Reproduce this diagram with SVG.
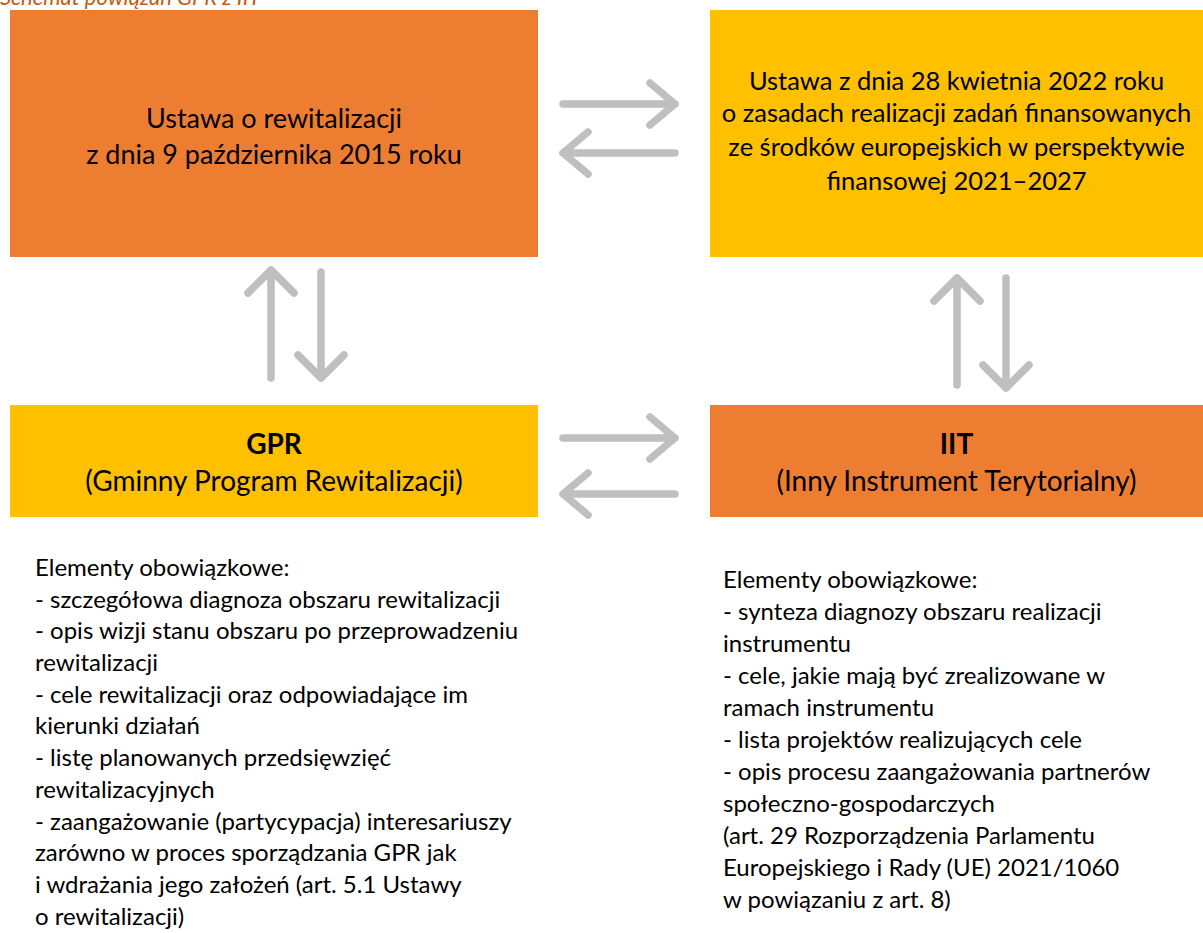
<svg xmlns="http://www.w3.org/2000/svg" width="1203" height="933" viewBox="0 0 1203 933">
<style>
text{font-family:Lato,"Liberation Sans",sans-serif;fill:#000;}
.c{text-anchor:middle;font-size:25.5px;}
.c1{font-size:27px;}
.c2{font-size:28px;}
.b{font-weight:bold;}
.l{font-size:24px;}
.cap{font-size:22px;font-style:italic;fill:#C55A11;}
.or{fill:#ED7D31;}
.ye{fill:#FFC000;}
.ar{fill:none;stroke:#BFBFBF;stroke-width:7.5;stroke-linecap:round;stroke-linejoin:round;}
</style>
<rect width="1203" height="933" fill="#fff"/>
<text class="cap" x="0" y="5">Schemat powiązań GPR z IIT</text>
<g id="ustawa-rew">
<rect class="or" x="10" y="10" width="528" height="247"/>
<text class="c c1" x="274" y="128">Ustawa o rewitalizacji</text>
<text class="c c1" x="274" y="164">z dnia 9 października 2015 roku</text>
</g>
<g id="ustawa-2022">
<rect class="ye" x="710" y="10" width="493" height="247"/>
<text class="c" x="956.5" y="90">Ustawa z dnia 28 kwietnia 2022 roku</text>
<text class="c" x="956.5" y="122">o zasadach realizacji zadań finansowanych</text>
<text class="c" x="956.5" y="156">ze środków europejskich w perspektywie</text>
<text class="c" x="956.5" y="190">finansowej 2021–2027</text>
</g>
<g id="gpr">
<rect class="ye" x="10" y="405" width="528" height="112"/>
<text class="c c2 b" x="274" y="454">GPR</text>
<text class="c c2" x="274" y="491">(Gminny Program Rewitalizacji)</text>
</g>
<g id="iit">
<rect class="or" x="710" y="405" width="493" height="112"/>
<text class="c c2 b" x="956.5" y="454">IIT</text>
<text class="c c2" x="956.5" y="491">(Inny Instrument Terytorialny)</text>
</g>
<g id="gpr-list">
<text class="l" x="35" y="576">Elementy obowiązkowe:</text>
<text class="l" x="35" y="608">- szczegółowa diagnoza obszaru rewitalizacji</text>
<text class="l" x="35" y="639">- opis wizji stanu obszaru po przeprowadzeniu</text>
<text class="l" x="35" y="671">rewitalizacji</text>
<text class="l" x="35" y="703">- cele rewitalizacji oraz odpowiadające im</text>
<text class="l" x="35" y="734">kierunki działań</text>
<text class="l" x="35" y="766">- listę planowanych przedsięwzięć</text>
<text class="l" x="35" y="798">rewitalizacyjnych</text>
<text class="l" x="35" y="830">- zaangażowanie (partycypacja) interesariuszy</text>
<text class="l" x="35" y="861">zarówno w proces sporządzania GPR jak</text>
<text class="l" x="35" y="893">i wdrażania jego założeń (art. 5.1 Ustawy</text>
<text class="l" x="35" y="925">o rewitalizacji)</text>
</g>
<g id="iit-list">
<text class="l" x="723" y="588">Elementy obowiązkowe:</text>
<text class="l" x="723" y="620">- synteza diagnozy obszaru realizacji</text>
<text class="l" x="723" y="652">instrumentu</text>
<text class="l" x="723" y="684">- cele, jakie mają być zrealizowane w</text>
<text class="l" x="723" y="716">ramach instrumentu</text>
<text class="l" x="723" y="748">- lista projektów realizujących cele</text>
<text class="l" x="723" y="780">- opis procesu zaangażowania partnerów</text>
<text class="l" x="723" y="812">społeczno-gospodarczych</text>
<text class="l" x="723" y="844">(art. 29 Rozporządzenia Parlamentu</text>
<text class="l" x="723" y="876">Europejskiego i Rady (UE) 2021/1060</text>
<text class="l" x="723" y="908">w powiązaniu z art. 8)</text>
</g>
<g id="connectors">
<path class="ar" d="M563 104H675M650 83L675 104L650 125"/>
<path class="ar" d="M675 153H563M588 132L563 153L588 174"/>
<path class="ar" d="M563 438H675M650 417L675 438L650 459"/>
<path class="ar" d="M675 494H563M588 473L563 494L588 515"/>
<path class="ar" d="M271 378V270M248 293L271 270L294 293"/>
<path class="ar" d="M321 272V378M298 355L321 378L344 355"/>
<path class="ar" d="M957 385V278M934 301L957 278L980 301"/>
<path class="ar" d="M1006 278V388M983 365L1006 388L1029 365"/>
</g>
</svg>
